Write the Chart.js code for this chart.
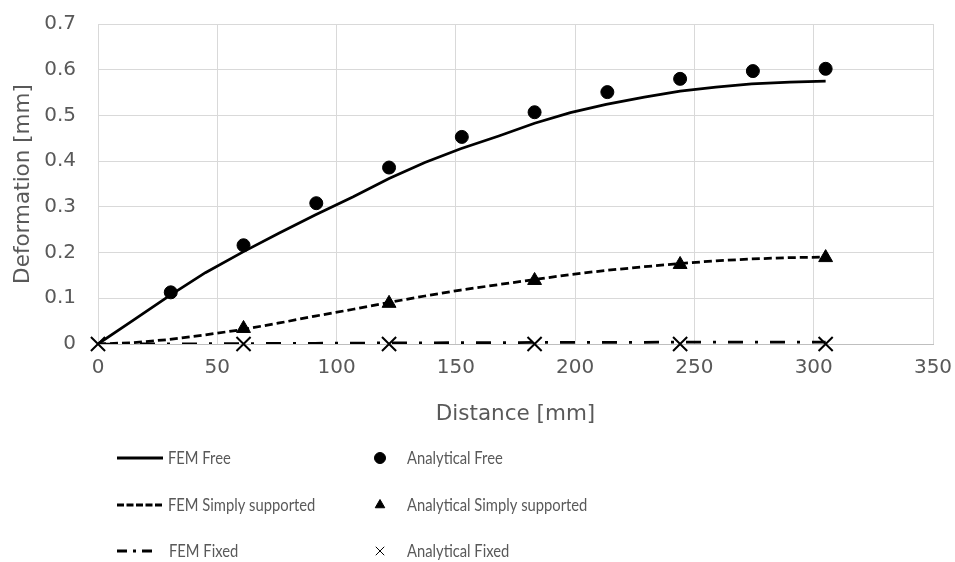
<!DOCTYPE html>
<html>
<head>
<meta charset="utf-8">
<script src="https://cdn.jsdelivr.net/npm/chart.js@4/dist/chart.umd.min.js"></script>
<style>
  html, body { margin: 0; padding: 0; background: #fff; }
  #wrap { width: 955px; height: 562px; position: relative; }
</style>
</head>
<body>
<div id="wrap"><canvas id="myChart"></canvas></div>
<script>
// FEM nodes (mm along the beam)
const femX = [0, 15, 30, 45, 61, 76, 91, 107, 122, 137, 152, 168, 183, 198, 213, 229, 244, 259, 274, 290, 305];
const femFree = [0, 0.053, 0.106, 0.156, 0.202, 0.243, 0.282, 0.322, 0.362, 0.397, 0.427, 0.455, 0.483, 0.506, 0.524, 0.540, 0.553, 0.562, 0.569, 0.573, 0.575];
const femSimply = [0, 0.003, 0.010, 0.020, 0.032, 0.046, 0.061, 0.076, 0.091, 0.105, 0.118, 0.130, 0.141, 0.152, 0.161, 0.169, 0.176, 0.182, 0.186, 0.189, 0.190];
const femFixed = [0, 0, 0.0003, 0.0006, 0.001, 0.0013, 0.0016, 0.002, 0.0023, 0.0026, 0.0029, 0.0031, 0.0033, 0.0035, 0.0037, 0.0038, 0.0039, 0.004, 0.004, 0.0041, 0.0041];

// analytical solution
const anaFreeX = [30.5, 61, 91.5, 122, 152.5, 183, 213.5, 244, 274.5, 305];
const anaFree = [0.113, 0.216, 0.308, 0.386, 0.453, 0.507, 0.551, 0.580, 0.597, 0.602];
const anaSupX = [61, 122, 183, 244, 305];
const anaSimply = [0.034, 0.089, 0.139, 0.174, 0.189];
const anaFixX = [0, 61, 122, 183, 244, 305];
const anaFixed = [0, 0, 0, 0, 0, 0];

const xTicks = [0, 50, 100, 150, 200, 250, 300, 350];
const yTicks = [0, 0.1, 0.2, 0.3, 0.4, 0.5, 0.6, 0.7];

const labels = ['FEM Free', 'FEM Simply supported', 'FEM Fixed', 'Analytical Free', 'Analytical Simply supported', 'Analytical Fixed'];

const AXIS_FONT = '"DejaVu Sans", sans-serif';
const LEGEND_FONT = 'Lato, sans-serif';
const GREY = '#595959';

function pts(xs, ys){
  return xs.map(function(x, i){ return { x: x, y: ys[i] }; });
}

function femSet(label, ys, dash){
  return {
    label: label, data: pts(femX, ys), showLine: true,
    borderColor: '#000', backgroundColor: '#000', borderWidth: 2.75,
    borderDash: dash, pointRadius: 0, tension: 0, order: 2
  };
}
function anaSet(label, xs, ys, style, r, bw){
  return {
    label: label, data: pts(xs, ys), showLine: false, clip: false,
    pointStyle: style, pointRadius: r, pointBorderWidth: bw,
    borderColor: '#000', backgroundColor: '#000', order: 1
  };
}

// two column legend, drawn under the plot
const legendTwoCol = {
  id: 'legendTwoCol',
  afterDraw(chart){
    const ctx = chart.ctx;
    const sets = chart.data.datasets;
    const rowY = [458, 505, 551];
    const sampleDash = [[], [7, 2.5], [10, 6, 3, 6]];
    const sampleEnd = [163, 163, 155];
    ctx.save();
    ctx.font = '18px ' + LEGEND_FONT;
    ctx.textBaseline = 'middle';
    // legend text is narrow in the original
    const squeeze = function(t){ return ctx.measureText(t).width * 0.82; };
    for (let i = 0; i < 3; i++) {
      const fem = sets[i];
      const y = rowY[i];
      ctx.save();
      ctx.strokeStyle = '#000';
      ctx.lineWidth = 3;
      ctx.setLineDash(sampleDash[i]);
      ctx.beginPath();
      ctx.moveTo(117, y);
      ctx.lineTo(sampleEnd[i], y);
      ctx.stroke();
      ctx.restore();
      ctx.fillStyle = GREY;
      ctx.fillText(fem.label, i === 2 ? 169 : 168, y, squeeze(fem.label));

      const ana = sets[i + 3];
      ctx.fillStyle = '#000';
      ctx.strokeStyle = '#000';
      Chart.helpers.drawPoint(ctx, {
        pointStyle: ana.pointStyle,
        radius: ana.pointStyle === 'crossRot' ? 6 : 5.5,
        rotation: 0,
        borderWidth: ana.pointStyle === 'crossRot' ? 2 : 1
      }, 380, y);
      ctx.fillStyle = GREY;
      ctx.fillText(ana.label, 407, y, squeeze(ana.label));
    }
    ctx.restore();
  }
};

const ctx = document.getElementById('myChart').getContext('2d');
const chart = new Chart(ctx, {
  type: 'scatter',
  data: {
    datasets: [
      femSet(labels[0], femFree, []),
      femSet(labels[1], femSimply, [8, 4]),
      femSet(labels[2], femFixed, [15, 12, 3, 12]),
      anaSet(labels[3], anaFreeX, anaFree, 'circle', 6.5, 1),
      anaSet(labels[4], anaSupX, anaSimply, 'triangle', 8, 1),
      anaSet(labels[5], anaFixX, anaFixed, 'crossRot', 10, 2)
    ]
  },
  options: {
    responsive: true,
    maintainAspectRatio: false,
    animation: false,
    layout: { autoPadding: false, padding: { top: 24, right: 22, bottom: 135, left: 0 } },
    plugins: {
      legend: { display: false },
      tooltip: { enabled: false }
    },
    scales: {
      x: {
        type: 'linear', min: 0, max: 350,
        afterBuildTicks(scale){ scale.ticks = xTicks.map(function(v){ return { value: v }; }); },
        afterFit(scale){ scale.height = 83; scale.paddingLeft = 0; scale.paddingRight = 0; },
        grid: { color: '#d9d9d9', lineWidth: 1, drawTicks: false },
        border: { color: '#bfbfbf', width: 1 },
        ticks: { color: GREY, font: { family: AXIS_FONT, size: 20 }, padding: 12, maxRotation: 0 },
        title: { display: true, text: 'Distance [mm]', color: GREY, font: { family: AXIS_FONT, size: 21.5 }, padding: 0 }
      },
      y: {
        type: 'linear', min: 0, max: 0.7,
        afterBuildTicks(scale){ scale.ticks = yTicks.map(function(v){ return { value: v }; }); },
        afterFit(scale){ scale.width = 98; scale.paddingTop = 0; scale.paddingBottom = 0; },
        grid: { color: '#d9d9d9', lineWidth: 1, drawTicks: false },
        border: { color: '#d9d9d9', width: 1 },
        ticks: { color: GREY, font: { family: AXIS_FONT, size: 20 }, padding: 22,
          callback: function(v){ return String(Math.round(v * 10) / 10); } },
        title: { display: true, text: 'Deformation [mm]', color: GREY, font: { family: AXIS_FONT, size: 21.5 }, padding: { top: 11 } }
      }
    }
  },
  plugins: [legendTwoCol]
});
</script>
</body>
</html>
